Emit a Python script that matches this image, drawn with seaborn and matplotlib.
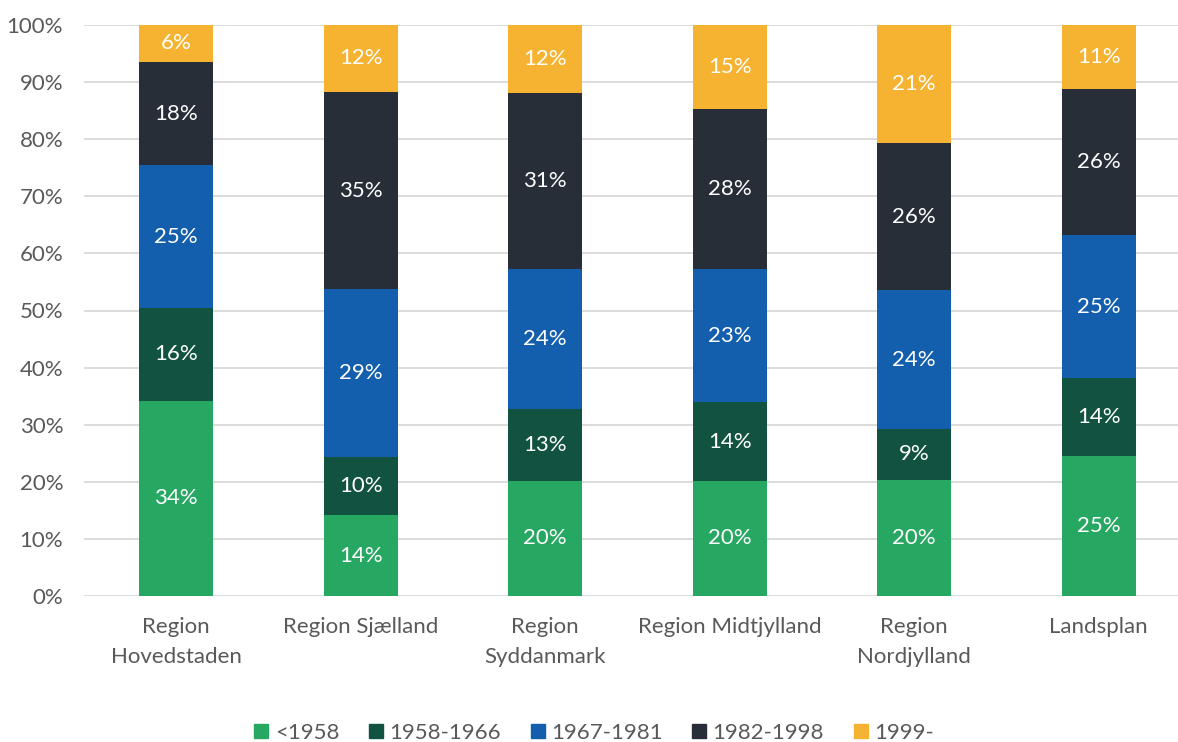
import matplotlib
matplotlib.use("Agg")
import matplotlib.pyplot as plt
from matplotlib.lines import Line2D
import seaborn as sns
import numpy as np
import pandas as pd

# Data (shares in %)
regions = ["Region\nHovedstaden", "Region Sjælland", "Region\nSyddanmark",
           "Region Midtjylland", "Region\nNordjylland", "Landsplan"]
periods = ["<1958", "1958-1966", "1967-1981", "1982-1998", "1999-"]
before_1958 = [34.2, 14.1, 20.2, 20.2, 20.4, 24.6]
p1958_1966 = [16.3, 10.2, 12.6, 13.7, 8.8, 13.6]
p1967_1981 = [24.9, 29.4, 24.4, 23.4, 24.4, 25.0]
p1982_1998 = [18.2, 34.6, 30.9, 28.0, 25.7, 25.6]
p1999 = [6.4, 11.7, 11.9, 14.7, 20.7, 11.2]
colors = ["#27A862", "#125240", "#135EAD", "#272E38", "#F6B331"]

series = [before_1958, p1958_1966, p1967_1981, p1982_1998, p1999]
df = pd.DataFrame({"region": regions})
for name, vals in zip(periods, series):
    df[name] = vals
cum = df[periods].cumsum(axis=1)

sns.set_theme(style="whitegrid")
plt.rcParams["font.family"] = ["Lato", "DejaVu Sans"]
fs = 16

fig = plt.figure(figsize=(11.78, 7.42), dpi=100)
ax = fig.add_axes([84 / 1178, 146 / 742, 1107 / 1178, 571 / 742])

# draw stacked bars: top layer first so lower layers cover it
for name, c in reversed(list(zip(periods, colors))):
    sns.barplot(x=df["region"], y=cum[name], color=c, width=0.4,
                saturation=1, linewidth=0, ax=ax, zorder=2)

# segment labels
for i in range(len(regions)):
    bottom = 0
    for name in periods:
        v = df.loc[i, name]
        ax.text(i, bottom + v / 2, f"{v:.0f}%", ha="center", va="center",
                color="white", fontsize=fs, zorder=3)
        bottom += v

ax.set_xlim(-0.5, 5.5)
ax.set_ylim(0, 100)
ax.set_yticks(np.arange(0, 101, 10))
ax.set_yticklabels([f"{t}%" for t in range(0, 101, 10)])
ax.set_xlabel("")
ax.set_ylabel("")
ax.grid(axis="y", color="#D9D9D9", linewidth=1.3)
ax.grid(axis="x", visible=False)
ax.set_axisbelow(True)
for s in ax.spines.values():
    s.set_visible(False)
ax.tick_params(axis="both", length=0, labelsize=fs, colors="#595959")
ax.tick_params(axis="y", pad=15)
ax.tick_params(axis="x", pad=15)
for lab in ax.get_xticklabels():
    lab.set_linespacing(1.65)

handles = [Line2D([0], [0], marker="s", linestyle="", markersize=10,
                  markerfacecolor=c, markeredgecolor=c) for c in colors]
fig.legend(handles, periods, loc="lower center", bbox_to_anchor=(0.504, -0.028),
           ncol=5, frameon=False, fontsize=fs, handlelength=0.7,
           handletextpad=0.25, columnspacing=1.3, labelcolor="#595959")

fig.savefig("out.png", dpi=100)
